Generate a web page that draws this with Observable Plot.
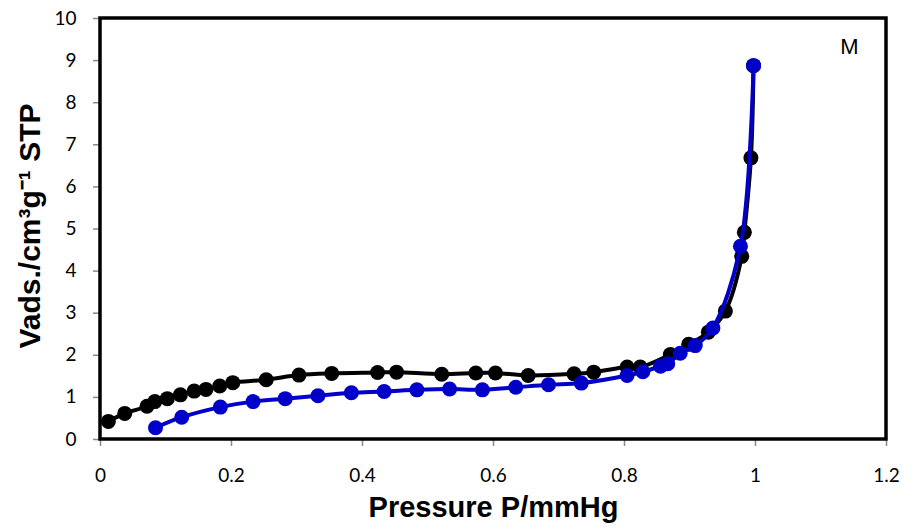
<!DOCTYPE html>
<html>
<head>
<meta charset="utf-8">
<script src="https://cdn.jsdelivr.net/npm/d3@7"></script>
<script src="https://cdn.jsdelivr.net/npm/@observablehq/plot@0.6"></script>
<style>
  html, body { margin: 0; padding: 0; background: #fff; overflow: hidden; }
  #chart svg { display: block; }
</style>
</head>
<body>
<div id="chart"></div>
<script>
// Black series (upper branch)
const blackP = [0.012,0.037,0.071,0.083,0.102,0.122,0.143,0.161,0.182,0.202,0.253,0.303,0.353,0.423,0.452,0.521,0.573,0.603,0.653,0.723,0.753,0.804,0.824,0.870,0.898,0.928,0.954,0.979,0.983,0.993,0.997];
const blackV = [0.43,0.62,0.79,0.90,0.97,1.06,1.15,1.19,1.27,1.35,1.42,1.53,1.57,1.59,1.60,1.55,1.58,1.58,1.52,1.56,1.60,1.72,1.72,2.02,2.26,2.55,3.05,4.35,4.92,6.69,8.88];
// Blue series (lower branch)
const blueP = [0.084,0.124,0.183,0.233,0.282,0.332,0.383,0.433,0.483,0.533,0.583,0.634,0.684,0.734,0.804,0.828,0.855,0.866,0.885,0.908,0.935,0.977,0.997];
const blueV = [0.28,0.53,0.77,0.90,0.97,1.04,1.11,1.14,1.18,1.20,1.18,1.24,1.30,1.34,1.52,1.61,1.74,1.80,2.05,2.23,2.65,4.59,8.88];

const xTicks = [0, 0.2, 0.4, 0.6, 0.8, 1, 1.2];
const yTicks = [0,1,2,3,4,5,6,7,8,9,10];
const xDomain = [0, 1.2];
const yDomain = [0, 10];
const xTitle = "Pressure P/mmHg";
const yTitle = "Vads./cm³g⁻¹ STP";
const panelLabel = "M";

const black = blackP.map((p, i) => ({p, v: blackV[i]}));
const blue = blueP.map((p, i) => ({p, v: blueV[i]}));

const BLUE = "#0000c8";
const tickFont = "Lato, 'Liberation Sans', sans-serif";
const titleFont = "'Liberation Sans', Arial, sans-serif";

const chart = Plot.plot({
  width: 902,
  height: 530,
  marginLeft: 100,
  marginRight: 16,
  marginTop: 18,
  marginBottom: 91,
  style: {background: "#fff", color: "#000"},
  x: {domain: xDomain},
  y: {domain: yDomain},
  marks: [
    Plot.axisX({ticks: xTicks, tickFormat: d => String(d), tickSize: 7, tickPadding: 22, stroke: "#888", strokeWidth: 1.5, fontSize: 19, fontFamily: tickFont, label: null}),
    Plot.axisY({ticks: yTicks, tickFormat: d => String(d), tickSize: 7, tickPadding: 17, stroke: "#888", strokeWidth: 1.5, fontSize: 19, fontFamily: tickFont, label: null}),
    Plot.rect([{x1: xDomain[0], x2: xDomain[1], y1: yDomain[0], y2: yDomain[1]}], {x1: "x1", x2: "x2", y1: "y1", y2: "y2", fill: "none", stroke: "#000", strokeWidth: 3.5}),
    Plot.line(black, {x: "p", y: "v", stroke: "#000", strokeWidth: 4, curve: "catmull-rom"}),
    Plot.dot(black, {x: "p", y: "v", r: 7.5, fill: "#000", stroke: "none"}),
    Plot.line(blue, {x: "p", y: "v", stroke: BLUE, strokeWidth: 4, curve: "catmull-rom"}),
    Plot.dot(blue, {x: "p", y: "v", r: 7.5, fill: BLUE, stroke: "none"}),
    Plot.text([panelLabel], {frameAnchor: "top-right", textAnchor: "middle", dx: -37, dy: 20, fontSize: 22, fontFamily: titleFont, fill: "#000"}),
    Plot.text([xTitle], {frameAnchor: "bottom", textAnchor: "middle", dy: 77, fontSize: 29, fontWeight: "bold", fontFamily: titleFont, fill: "#000"}),
    Plot.text([yTitle], {frameAnchor: "left", textAnchor: "middle", dx: -70, dy: -3, rotate: -90, fontSize: 30, fontWeight: "bold", fontFamily: titleFont, fill: "#000"})
  ]
});
document.getElementById("chart").appendChild(chart);
</script>
</body>
</html>
